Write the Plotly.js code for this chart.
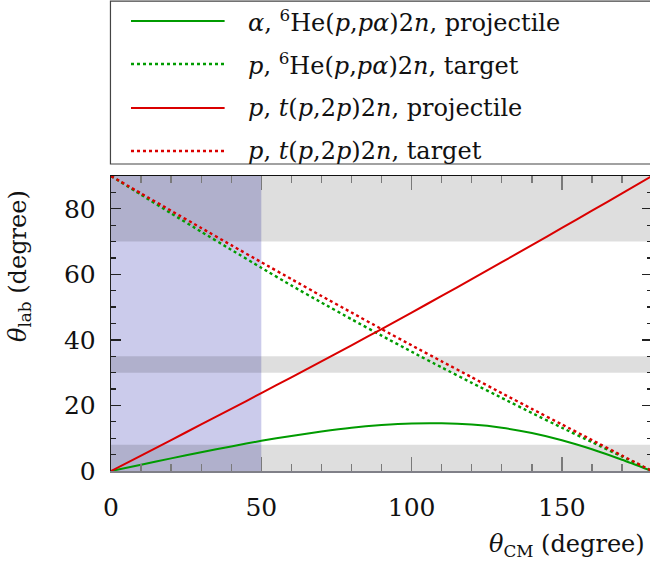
<!DOCTYPE html>
<html>
<head>
<meta charset="utf-8">
<script src="https://cdn.plot.ly/plotly-3.0.1.min.js"></script>
<style>html,body{margin:0;padding:0;background:#fff;}#chart{width:650px;height:561px;}</style>
</head>
<body>
<div id="chart"></div>
<script>
// ---- data ----
const thetaCM = [0,10,20,30,40,50,60,70,80,90,100,110,120,130,140,150,160,170,180];
const alphaProjectile = [0,1.9,3.85,5.7,7.5,9.2,10.7,12.05,13.2,14.0,14.5,14.55,14.15,13.2,11.6,9.4,6.65,3.45,0];
const pHeTarget = [90,84.3,78.6,73.0,67.5,62.0,56.6,51.4,46.3,41.3,36.4,31.6,26.9,22.3,17.7,13.2,8.8,4.4,0];
const pTProjectile = [0,4.7,9.45,14.2,18.95,23.75,28.6,33.45,38.35,43.3,48.35,53.4,58.55,63.7,68.9,74.15,79.4,84.7,90];
const pTTarget = [90,84.7,79.4,74.15,68.9,63.7,58.55,53.4,48.35,43.3,38.35,33.45,28.6,23.75,18.95,14.2,9.45,4.7,0];
const seriesNames = [
  '<i>α</i>, <sup>6</sup>He(<i>p</i>,<i>pα</i>)2<i>n</i>, projectile',
  '<i>p</i>, <sup>6</sup>He(<i>p</i>,<i>pα</i>)2<i>n</i>, target',
  '<i>p</i>, <i>t</i>(<i>p</i>,2<i>p</i>)2<i>n</i>, projectile',
  '<i>p</i>, <i>t</i>(<i>p</i>,2<i>p</i>)2<i>n</i>, target'
];
const grayBandsY = [[0,8],[30,35],[70,90]];
const blueBandX = [0,50];
const xTitle = '<i>θ</i><sub>CM</sub> (degree)';
const yTitle = '<i>θ</i><sub>lab</sub> (degree)';

// ---- styles ----
const GREEN = 'rgb(0,155,0)';
const RED = 'rgb(218,0,0)';
const FONT = 'DejaVu Serif';
const seriesY = [alphaProjectile, pHeTarget, pTProjectile, pTTarget];
const seriesColor = [GREEN, GREEN, RED, RED];
const seriesDash = ['solid','dot','solid','dot'];

const traces = seriesY.map((ys, i) => ({
  x: thetaCM, y: ys, type: 'scatter', mode: 'lines', name: seriesNames[i],
  line: {color: seriesColor[i], width: seriesDash[i]==='dot'?2.4:2, dash: seriesDash[i], shape: 'spline', smoothing: 0.6},
  showlegend: false, hoverinfo: 'skip'
}));
// helper trace to activate the mirrored tick axes
traces.push({x: [], y: [], xaxis: 'x2', yaxis: 'y2', type: 'scatter', mode: 'lines', showlegend: false, hoverinfo: 'skip'});

const shapes = [];
shapes.push({type:'rect', xref:'x', yref:'paper', x0: blueBandX[0], x1: blueBandX[1], y0: 0, y1: 1,
  fillcolor: 'rgb(203,203,235)', line: {width: 0}, layer: 'below'});
grayBandsY.forEach(b => shapes.push({type:'rect', xref:'paper', yref:'y', x0: 0, x1: 1, y0: b[0], y1: b[1],
  fillcolor: 'rgba(0,0,0,0.13)', line: {width: 0}, layer: 'below'}));

// custom legend box (long line samples as in the reference)
shapes.push({type:'rect', xref:'paper', yref:'paper', x0: -0.001, x1: 1.02, y0: 1.0407, y1: 1.593,
  fillcolor: '#ffffff', line: {color: '#444', width: 1.2}, layer: 'above'});
const legRowY = [1.5254, 1.3797, 1.2305, 1.0847];
const annotations = [];
seriesNames.forEach((nm, i) => {
  shapes.push({type:'line', xref:'paper', yref:'paper', x0: 0.0371, x1: 0.2108, y0: legRowY[i], y1: legRowY[i],
    line: {color: seriesColor[i], width: seriesDash[i]==='dot'?2.4:2, dash: seriesDash[i]}, layer: 'above'});
  annotations.push({xref:'paper', yref:'paper', x: 0.2497, y: legRowY[i], xanchor:'left', yanchor:'middle',
    text: nm, showarrow: false, font: {family: FONT, size: 24, color: '#111'}});
});
annotations.push({xref:'paper', yref:'paper', x: 0.9944, y: -0.251, xanchor:'right', yanchor:'middle',
  text: xTitle, showarrow: false, font: {family: FONT, size: 24, color: '#111'}});
annotations.push({xref:'paper', yref:'paper', x: -0.1688, y: 0.695, xanchor:'center', yanchor:'middle', textangle: -90,
  text: yTitle, showarrow: false, font: {family: FONT, size: 24, color: '#111'}});

const XT = '#7a7a7a';
const layout = {
  width: 650, height: 561,
  margin: {l: 111, r: 0, t: 176, b: 90, pad: 0},
  paper_bgcolor: '#ffffff', plot_bgcolor: '#ffffff',
  font: {family: FONT, size: 25, color: '#111'},
  showlegend: false,
  xaxis: {range: [0, 179.3], tick0: 0, dtick: 50, ticks: 'inside', ticklen: 14, tickwidth: 1.3, tickcolor: XT,
    minor: {dtick: 10, ticks: 'inside', ticklen: 7, tickwidth: 1.3, tickcolor: XT},
    showline: true, linecolor: '#808088', linewidth: 2, showgrid: false, zeroline: false,
    ticklabelstandoff: 13, tickfont: {family: FONT, size: 25, color: '#111'}},
  yaxis: {range: [0, 90], tick0: 0, dtick: 20, ticks: 'inside', ticklen: 10, tickwidth: 1.3, tickcolor: '#222',
    minor: {dtick: 5, ticks: 'inside', ticklen: 5, tickwidth: 1.3, tickcolor: '#222'},
    showline: true, linecolor: '#222', linewidth: 1.3, showgrid: false, zeroline: false,
    ticklabelstandoff: 9, tickfont: {family: FONT, size: 25, color: '#111'}},
  xaxis2: {overlaying: 'x', side: 'top', anchor: 'y2', range: [0, 179.3], tick0: 0, dtick: 50,
    ticks: 'inside', ticklen: 14, tickwidth: 1.3, tickcolor: XT,
    minor: {dtick: 10, ticks: 'inside', ticklen: 7, tickwidth: 1.3, tickcolor: XT},
    showticklabels: false, showline: true, linecolor: '#111', linewidth: 1.5, showgrid: false, zeroline: false},
  yaxis2: {overlaying: 'y', side: 'right', anchor: 'x2', range: [0, 90], tick0: 0, dtick: 20,
    ticks: 'inside', ticklen: 8, tickwidth: 1.3, tickcolor: '#222',
    minor: {dtick: 5, ticks: 'inside', ticklen: 3, tickwidth: 1.3, tickcolor: '#222'},
    showticklabels: false, showline: false, showgrid: false, zeroline: false},
  shapes: shapes,
  annotations: annotations
};
Plotly.newPlot('chart', traces, layout, {staticPlot: true, displayModeBar: false});
</script>
</body>
</html>
